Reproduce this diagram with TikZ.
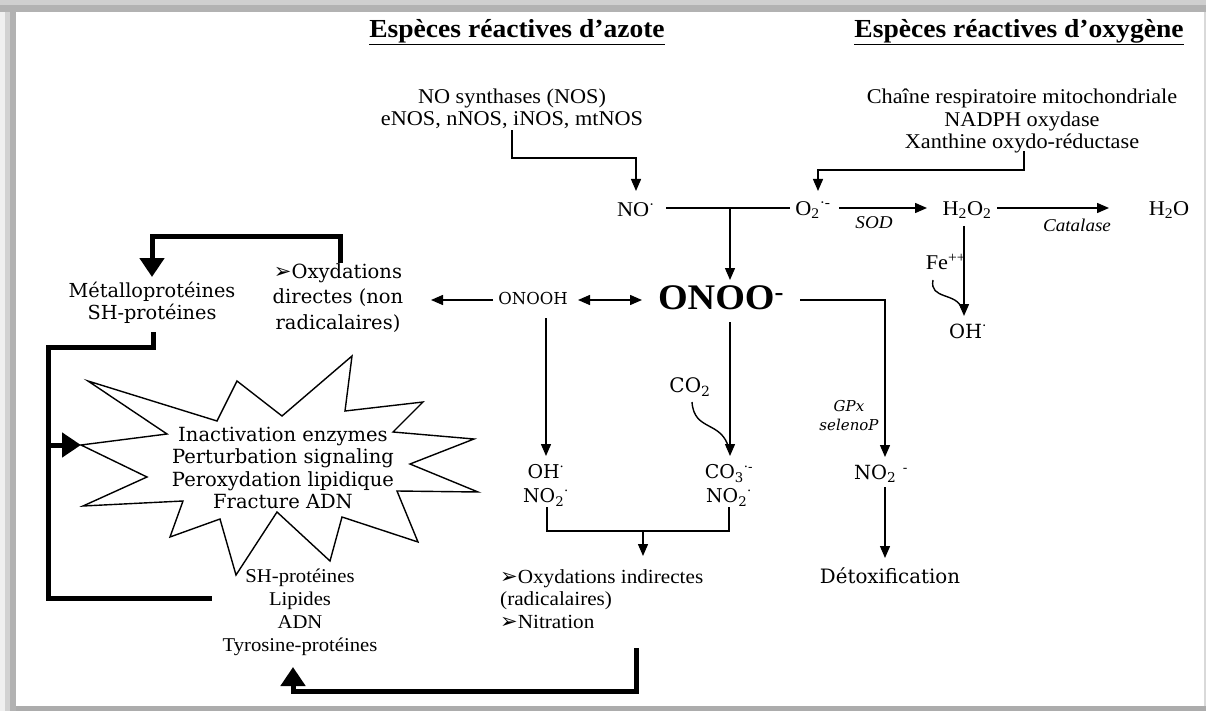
\documentclass[tikz,border=0pt]{standalone}
\usepackage{fontspec}
\setmainfont{Liberation Serif}[FakeStretch=1.06]
\newfontfamily\djf{DejaVu Serif}
\newfontfamily\djsf{DejaVu Sans}
\usetikzlibrary{arrows.meta}
\newcommand{\tfs}{\fontsize{21}{22.5}\selectfont}
\newcommand{\dfs}{\djf\fontsize{19.5}{22.5}\selectfont}
\newcommand{\pointer}{{\djsf\fontsize{21}{21}\selectfont\char"27A2}}
\begin{document}
\begin{tikzpicture}[x=1pt,y=-1pt,
  tx/.style={inner sep=0pt,align=center,font=\tfs},
  dx/.style={inner sep=0pt,align=center,font=\dfs},
  ln/.style={line width=1.4pt},
  arr/.style={line width=1.4pt,-{Triangle[length=12pt,width=10pt]}},
  darr/.style={line width=1.4pt,{Triangle[length=12pt,width=10pt]}-{Triangle[length=12pt,width=10pt]}},
  boldline/.style={line width=5pt,line join=miter},
  barr/.style={line width=5pt,line join=miter,-{Triangle[length=19pt,width=24pt]}},
  lbl/.style={inner sep=0pt,font=\fontsize{18}{19}\selectfont\itshape},
  hdr/.style={inner sep=0pt,font=\bfseries\fontsize{26}{28}\selectfont}
]
\useasboundingbox (0,0) rectangle (1206,711);
\fill[white] (0,0) rectangle (1206,711);
\fill[gray!60] (0,0) rectangle (1206,12);
\fill[gray!38] (0,0) rectangle (1206,5);
\fill[gray!12] (0,12) rectangle (5,711);
\fill[gray!35] (5,12) rectangle (10,711);
\fill[gray!60] (10,12) rectangle (16,711);
\fill[gray!65] (16,706) rectangle (1206,711);
\fill[gray!30] (1204,12) rectangle (1206,706);

% headers
\node[hdr] (hN) at (517,32) {\underline{Espèces réactives d’azote}};
\node[hdr] (hO) at (1019,32) {\underline{Espèces réactives d’oxygène}};

% sources
\node[tx] (nos) at (512,109) {NO synthases (NOS)\\eNOS, nNOS, iNOS, mtNOS};
\node[tx] (ros) at (1022,121) {Chaîne respiratoire mitochondriale\\NADPH oxydase\\Xanthine oxydo-réductase};

% species row
\node[tx] (no) at (636,210) {NO\textsuperscript{·}};
\node[tx] (o2) at (813,210) {O\textsubscript{2}\textsuperscript{·-}};
\node[tx] (h2o2) at (967,210) {H\textsubscript{2}O\textsubscript{2}};
\node[tx] (h2o) at (1169,210) {H\textsubscript{2}O};
\node[lbl] (sod) at (874,223) {SOD};
\node[lbl] (cat) at (1077,225) {Catalase};
\node[tx] (fe) at (946,262) {Fe\textsuperscript{++}};
\node[dx] (ohr) at (968,331) {OH\textsuperscript{·}};

% peroxynitrite
\node[inner sep=0pt,font=\bfseries\fontsize{36}{38}\selectfont] (onoo) at (721,298) {ONOO\textsuperscript{-}};
\node[dx,font=\djf\fontsize{16.5}{20}\selectfont] (onooh) at (533,298) {ONOOH};
\node[dx,font=\djf\fontsize{19.5}{25.5}\selectfont] (oxdir) at (338,298) {\pointer Oxydations\\directes (non\\radicalaires)};
\node[dx,font=\djf\fontsize{19.3}{21.5}\selectfont] (metal) at (152,303) {Métalloprotéines\\SH-protéines};

% starburst
\coordinate (bL) at (81,445);
\draw[ln,line join=miter] (88,381) -- (217,421) -- (237,381) -- (282,416) -- (352,356) -- (345,411)
  -- (423,402) -- (393,432) -- (474,439) -- (410,464) -- (478,492) -- (397,491) -- (418,542)
  -- (342,517) -- (330,561) -- (277,512) -- (236,575) -- (220,519) -- (170,537) -- (183,501)
  -- (83,506) -- (147,477) -- (bL) -- (167,434) -- cycle;
\node[dx] (burst) at (283,468) {Inactivation enzymes\\Perturbation signaling\\Peroxydation lipidique\\Fracture ADN};

% lower species
\node[dx,font=\djf\fontsize{20}{22}\selectfont] (co2) at (690,387) {CO\textsubscript{2}};
\node[inner sep=0pt,align=center,font=\djf\itshape\fontsize{15}{19}\selectfont] (gpx) at (849,416) {GPx\\selenoP};
\node[dx,font=\djf\fontsize{19}{24}\selectfont] (ohno) at (546,485) {OH\textsuperscript{·}\\NO\textsubscript{2}\textsuperscript{·}};
\node[dx,font=\djf\fontsize{19}{24}\selectfont] (co3) at (729,485) {CO\textsubscript{3}\textsuperscript{·-}\\NO\textsubscript{2}\textsuperscript{·}};
\node[dx] (no2m) at (881,474) {NO\textsubscript{2}\,\,\textsuperscript{-}};
\node[dx,font=\djf\fontsize{19.8}{21}\selectfont] (detox) at (890,576) {Détoxification};
\node[inner sep=0pt,align=left,font=\fontsize{20}{22.5}\selectfont,anchor=west] (oxind) at (500,599) {\pointer Oxydations indirectes\\(radicalaires)\\\pointer Nitration};
\node[tx,font=\fontsize{19.5}{23}\selectfont] (cibles) at (300,612) {SH-protéines\\Lipides\\ADN\\Tyrosine-protéines};

% ---- connectors ----
\coordinate (noK) at (636,158);
\coordinate (noIn) at (636,191);
\draw[arr] (nos.south) ++(0,1) |- (noK) -- (noIn);
\coordinate (o2K) at (818,170);
\coordinate (o2In) at (818,191);
\draw[arr] (ros.south) ++(2,-2) |- (o2K) -- (o2In);

\coordinate (nl) at (666,208);
\coordinate (nr) at (790,208);
\coordinate (nm) at (730,208);
\coordinate (onooIn) at (730,280);
\draw[ln] (nl) -- (nr);
\draw[arr] (nm) -- (onooIn);

\coordinate (sodA) at (839,208);
\coordinate (sodB) at (927,208);
\draw[arr] (sodA) -- (sodB);
\coordinate (catA) at (997,208);
\coordinate (catB) at (1109,208);
\draw[arr] (catA) -- (catB);
\coordinate (hA) at (964,226);
\coordinate (hB) at (964,316);
\draw[arr] (hA) -- (hB);
\coordinate (feA) at (933,280);
\draw[ln] (feA) .. controls (929,300) and (957,292) .. (962,309);

\coordinate (dA) at (578,300);
\coordinate (dB) at (642,300);
\draw[darr] (dA) -- (dB);
\coordinate (lA) at (493,300);
\coordinate (lB) at (431,300);
\draw[arr] (lA) -- (lB);

% thick feedback arrows
\coordinate (tA) at (340,263);
\coordinate (tK) at (152,237);
\coordinate (metIn) at (152,277);
\draw[barr] (tA) |- (tK) -- (metIn);
\coordinate (mA) at (153,332);
\coordinate (mK) at (48,347);
\coordinate (mE) at (212,598);
\draw[boldline] (mA) |- (mK) |- (mE);
\coordinate (mT) at (48,445);
\draw[barr] (mT) -- (bL);
\coordinate (bA) at (636,648);
\coordinate (bK) at (293,691);
\coordinate (cibIn) at (293,667);
\draw[barr] (bA) |- (bK) -- (cibIn);

% vertical branches
\coordinate (v1A) at (546,318);
\coordinate (v1B) at (546,456);
\draw[arr] (v1A) -- (v1B);
\coordinate (v2A) at (730,322);
\coordinate (v2B) at (730,456);
\draw[arr] (v2A) -- (v2B);
\coordinate (cA) at (692,402);
\draw[ln] (cA) .. controls (694,432) and (722,420) .. (729,449);
\coordinate (rA) at (800,300);
\coordinate (rK) at (885,300);
\coordinate (rB) at (885,457);
\draw[arr] (rA) -- (rK) -- (rB);
\coordinate (dxA) at (885,487);
\coordinate (dxB) at (885,558);
\draw[arr] (dxA) -- (dxB);

% merge bracket
\coordinate (kA) at (547,507);
\coordinate (kB) at (729,507);
\coordinate (kM) at (643,531);
\coordinate (kIn) at (643,556);
\draw[ln] (kA) |- (kM) -| (kB);
\draw[arr] (kM) -- (kIn);
\end{tikzpicture}
\end{document}
